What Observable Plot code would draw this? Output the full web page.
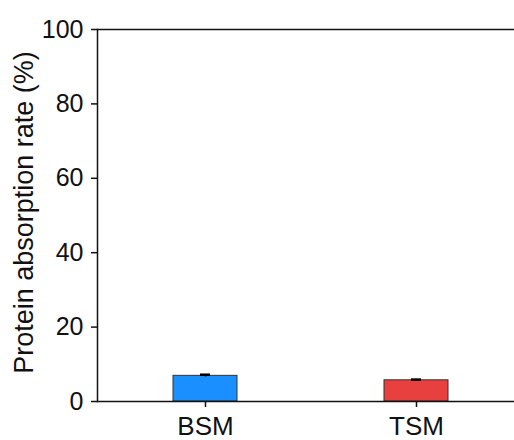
<!DOCTYPE html>
<html><head>
<meta charset="utf-8">
<script src="https://cdn.jsdelivr.net/npm/d3@7"></script>
<script src="https://cdn.jsdelivr.net/npm/@observablehq/plot@0.6"></script>
<style>body{margin:0;background:#fff}</style>
</head><body><div id="chart"></div>
<script>
const groups = ["BSM", "TSM"];
const rates = [6.9, 5.7];
const errors = [0.3, 0.2];
const colors = ["#1a8fff", "#e8403f"];
const yTicks = [0, 20, 40, 60, 80, 100];
const yLabel = "Protein absorption rate (%)";

const data = groups.map((g, i) => ({group: g, rate: rates[i], err: errors[i]}));
const ink = "#111";

const chart = Plot.plot({
  width: 514, height: 440,
  marginLeft: 97, marginRight: 0, marginTop: 29, marginBottom: 39,
  style: {fontFamily: "'Liberation Sans', Arial, sans-serif", background: "#fff", color: ink},
  x: {domain: groups, paddingInner: 0.698, paddingOuter: 0.3325, align: 0.532, label: null},
  y: {domain: [0, 100], label: null},
  color: {domain: groups, range: colors},
  marks: [
    Plot.barY(data, {x: "group", y: "rate", fill: "group", stroke: "#333", strokeWidth: 1}),
    Plot.ruleX(data, {x: "group", y1: d => d.rate - d.err, y2: d => d.rate + d.err, stroke: "#000", strokeWidth: 1.5}),
    Plot.tickY(data, {x: "group", y: d => d.rate + d.err, stroke: "#000", strokeWidth: 2.5, insetLeft: 27, insetRight: 27}),
    Plot.ruleY([0], {stroke: ink, strokeWidth: 1.5}),
    Plot.ruleY([100], {stroke: ink, strokeWidth: 1.5}),
    Plot.frame({anchor: "left", stroke: ink, strokeWidth: 1.5}),
    Plot.axisY({ticks: yTicks, tickSize: 6, tickPadding: 8, fontSize: 25, label: null, strokeWidth: 1.5}),
    Plot.axisX({tickSize: 6, tickPadding: 9, fontSize: 26, label: null, strokeWidth: 1.5}),
    Plot.text([yLabel], {frameAnchor: "left", textAnchor: "middle", rotate: -90, dx: -73, dy: -3, fontSize: 27, fill: ink})
  ]
});
document.getElementById("chart").appendChild(chart);
</script>
</body></html>
